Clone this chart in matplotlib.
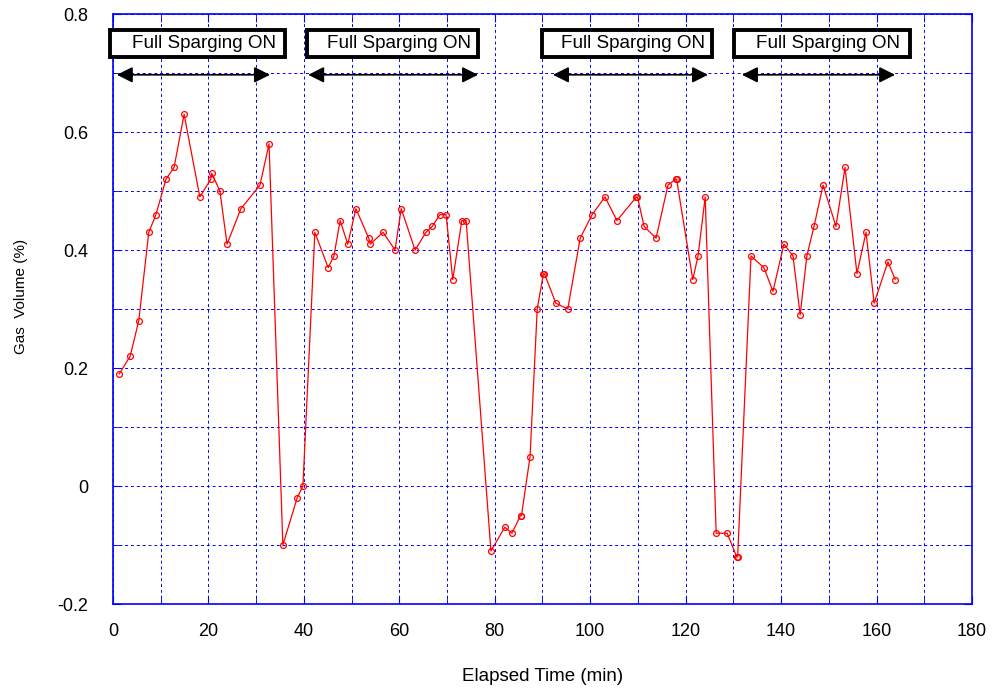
import matplotlib.pyplot as plt
from matplotlib.patches import Rectangle
from matplotlib.ticker import MultipleLocator

plt.rcParams['font.family'] = ['Liberation Sans', 'DejaVu Sans']

# elapsed time (min) and gas volume (%)
time_min = [1.3, 3.6, 5.4, 7.5, 9.0, 11.1, 12.8, 14.9, 18.2, 20.5, 20.7, 22.4, 23.9,
            26.8, 30.8, 32.7, 35.6, 38.6, 39.8, 42.3, 45.1, 46.3, 47.6, 49.2, 50.9,
            53.6, 53.9, 56.6, 59.1, 60.4, 63.3, 65.6, 66.9, 68.5, 69.8, 71.2, 73.1,
            74.0, 79.2, 82.1, 83.6, 85.4, 85.6, 87.4, 88.9, 90.2, 90.4, 92.8, 95.3,
            97.9, 100.4, 103.1, 105.6, 109.7, 109.9, 111.3, 113.8, 116.3, 117.9,
            118.1, 121.5, 122.6, 124.1, 126.4, 128.7, 130.7, 130.9, 133.7, 136.4,
            138.3, 140.6, 142.5, 144.0, 145.4, 146.9, 148.8, 151.5, 153.4, 155.9,
            157.8, 159.5, 162.4, 163.9]
gas_volume = [0.19, 0.22, 0.28, 0.43, 0.46, 0.52, 0.54, 0.63, 0.49, 0.52, 0.53, 0.50, 0.41,
              0.47, 0.51, 0.58, -0.10, -0.02, 0.00, 0.43, 0.37, 0.39, 0.45, 0.41, 0.47,
              0.42, 0.41, 0.43, 0.40, 0.47, 0.40, 0.43, 0.44, 0.46, 0.46, 0.35, 0.45,
              0.45, -0.11, -0.07, -0.08, -0.05, -0.05, 0.05, 0.30, 0.36, 0.36, 0.31, 0.30,
              0.42, 0.46, 0.49, 0.45, 0.49, 0.49, 0.44, 0.42, 0.51, 0.52,
              0.52, 0.35, 0.39, 0.49, -0.08, -0.08, -0.12, -0.12, 0.39, 0.37,
              0.33, 0.41, 0.39, 0.29, 0.39, 0.44, 0.51, 0.44, 0.54, 0.36,
              0.43, 0.31, 0.38, 0.35]

# sparging periods: (box left, box right) and (arrow start, arrow end)
box_spans = [(-0.6, 36.0), (40.7, 76.5), (89.9, 125.5), (130.1, 167.0)]
arrow_spans = [(0.8, 32.9), (40.9, 76.5), (92.2, 124.7), (131.8, 163.9)]
label = 'Full Sparging ON'

fig = plt.figure(figsize=(9.92, 6.91), dpi=100)
ax = fig.add_axes([0.1139, 0.1259, 0.8659, 0.8538])

ax.plot(time_min, gas_volume, color='red', lw=0.9, marker='o', markersize=4.2,
        markerfacecolor='none', markeredgecolor='red', markeredgewidth=0.9, zorder=3)

ax.set_xlim(0, 180)
ax.set_ylim(-0.2, 0.8)
ax.xaxis.set_major_locator(MultipleLocator(20))
ax.xaxis.set_minor_locator(MultipleLocator(10))
ax.yaxis.set_minor_locator(MultipleLocator(0.1))
ax.set_yticks([-0.2, 0, 0.2, 0.4, 0.6, 0.8])
ax.set_yticklabels(['-0.2', '0', '0.2', '0.4', '0.6', '0.8'])
ax.grid(which='both', color='blue', linestyle=(0, (3, 3)), lw=0.7)
ax.tick_params(which='both', direction='in', colors='blue', top=True, right=True,
               labelcolor='black', labelsize=13, length=6)
ax.tick_params(axis='x', pad=14)
ax.tick_params(axis='y', pad=18)
for s in ax.spines.values():
    s.set_color('blue')
    s.set_linewidth(1.2)

ax.set_xlabel('Elapsed Time (min)', fontsize=13.5, labelpad=20)
ax.set_ylabel('Gas  Volume (%)', fontsize=11)
ax.yaxis.set_label_coords(-0.099, 0.522)

for (b0, b1), (a0, a1) in zip(box_spans, arrow_spans):
    ax.add_patch(Rectangle((b0, 0.728), b1 - b0, 0.045, facecolor='white',
                           edgecolor='black', lw=2.8, zorder=5, clip_on=False))
    ax.text(b0 + (b1 - b0) * 0.535, 0.7505, label, ha='center', va='center',
            fontsize=13.6, zorder=6)
    ax.annotate('', xy=(a0, 0.697), xytext=(a1, 0.697),
                arrowprops=dict(arrowstyle='<|-|>', color='black', lw=1.2,
                                mutation_scale=24, shrinkA=0, shrinkB=0), zorder=6)

fig.savefig('out.png', dpi=100)
